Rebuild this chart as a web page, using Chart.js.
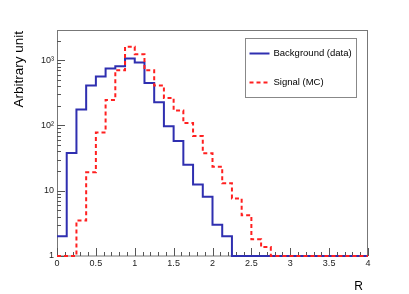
<!DOCTYPE html>
<html>
<head>
<meta charset="utf-8">
<script src="https://cdn.jsdelivr.net/npm/chart.js@4"></script>
<style>
html,body{margin:0;padding:0;background:#fff;}
#wrap{width:409px;height:294px;position:relative;}
</style>
</head>
<body>
<div id="wrap"><canvas id="c" width="409" height="294"></canvas></div>
<script>
// ---- data (histograms, bin width 0.125 from 0 to 4) ----
const binLowEdges = [0,0.125,0.25,0.375,0.5,0.625,0.75,0.875,1,1.125,1.25,1.375,1.5,1.625,1.75,1.875,2,2.125,2.25,2.375,2.5,2.625,2.75,2.875,3,3.125,3.25,3.375,3.5,3.625,3.75,3.875];
const xMaxEdge = 4;
const background = [2.0,38,175,408,562,745,809,1062,922,448,226,97,58,25,12.5,8.1,3.0,2.0,0,0,0,0,0,0,0,0,0,0,0,0,0,0];
const signal = [0,0,3.5,19.2,78,246,702,1607,1237,702,408,264,170,109,69,37.6,23.4,13,7.6,4.2,1.8,1.37,0,0,0,0,0,0,0,0,0,0];
const seriesNames = ["Background (data)", "Signal (MC)"];
const xTickValues = [0,0.5,1,1.5,2,2.5,3,3.5,4];
const xTickLabels = ["0","0.5","1","1.5","2","2.5","3","3.5","4"];
const yTickValues = [1,10,100,1000];
const yTickLabels = ["1","10","10\u00B2","10\u00B3"];
const yMin = 1, yMax = 2900;
const xTitle = "R", yTitle = "Arbitrary unit";

const FONT = '"Liberation Sans", Arial, Helvetica, sans-serif';

function toSteps(vals){
  const pts = vals.map((v,i)=>({x: binLowEdges[i], y: Math.max(v, yMin)}));
  pts.push({x: xMaxEdge, y: Math.max(vals[vals.length-1], yMin)});
  return pts;
}

const rootPlugin = {
  id: 'rootStyle',
  beforeDatasetsDraw(chart){
    const ctx = chart.ctx, ca = chart.chartArea;
    const xs = chart.scales.x, ys = chart.scales.y;
    ctx.save();
    ctx.strokeStyle = '#777';
    ctx.lineWidth = 1;
    ctx.strokeRect(Math.round(ca.left)+0.5, Math.round(ca.top)+0.5, Math.round(ca.right-ca.left)-1, Math.round(ca.bottom-ca.top)-0.5);
    ctx.strokeStyle = '#555';
    ctx.beginPath();
    for (let k=0;k<=40;k++){
      const v = k/10;
      const px = Math.round(xs.getPixelForValue(v))+0.5;
      const len = (k%5===0) ? 8 : 4;
      ctx.moveTo(px, ca.bottom);
      ctx.lineTo(px, ca.bottom-len);
    }
    for (let d=1; d<=yMax; d*=10){
      for (let m=1;m<=9;m++){
        const v = m*d;
        if (v>yMax) break;
        const py = Math.round(ys.getPixelForValue(v))+0.5;
        const len = (m===1)?8:4;
        ctx.moveTo(ca.left, py);
        ctx.lineTo(ca.left+len, py);
      }
    }
    ctx.stroke();
    ctx.restore();
  },
  afterDraw(chart){
    const ctx = chart.ctx, ca = chart.chartArea;
    ctx.save();
    ctx.fillStyle = '#000';
    ctx.font = '12px ' + FONT;
    ctx.textAlign = 'right';
    ctx.textBaseline = 'alphabetic';
    ctx.fillText(xTitle, ca.right-5, 290);
    ctx.save();
    ctx.translate(23, ca.top);
    ctx.rotate(-Math.PI/2);
    ctx.font = '13.5px ' + FONT;
    ctx.textAlign = 'right';
    ctx.fillText(yTitle, -1, 0);
    ctx.restore();
    const w = ca.right-ca.left, h = ca.bottom-ca.top;
    const lx0 = Math.round(ca.left + 0.605*w)+0.5, lx1 = Math.round(ca.left+0.961*w)+0.5;
    const ly0 = Math.round(ca.top + 0.036*h)+0.5, ly1 = Math.round(ca.top+0.296*h)+0.5;
    ctx.fillStyle = '#fff';
    ctx.fillRect(lx0, ly0, lx1-lx0, ly1-ly0);
    ctx.strokeStyle = '#888';
    ctx.lineWidth = 1;
    ctx.strokeRect(lx0, ly0, lx1-lx0, ly1-ly0);
    const rows = [ly0 + 15, ly0 + 44];
    chart.data.datasets.forEach((ds,i)=>{
      const y = rows[i];
      ctx.beginPath();
      ctx.strokeStyle = ds.borderColor;
      ctx.lineWidth = ds.borderWidth;
      ctx.setLineDash(ds.borderDash || []);
      ctx.moveTo(lx0+4, y);
      ctx.lineTo(lx0+24, y);
      ctx.stroke();
      ctx.setLineDash([]);
      ctx.fillStyle = '#000';
      ctx.font = '9.5px ' + FONT;
      ctx.textAlign = 'left';
      ctx.textBaseline = 'middle';
      ctx.fillText(ds.label, lx0+28, y);
    });
    ctx.restore();
  }
};

new Chart(document.getElementById('c'), {
  type: 'line',
  data: {
    datasets: [
      {label: seriesNames[0], data: toSteps(background), stepped: 'before', borderColor: '#2f2fb0', borderWidth: 2, pointRadius: 0, fill: false, tension: 0, clip: 2, order: 2},
      {label: seriesNames[1], data: toSteps(signal), stepped: 'before', borderColor: '#ff2020', borderWidth: 2, borderDash: [4,3], pointRadius: 0, fill: false, tension: 0, clip: 2, order: 1}
    ]
  },
  plugins: [rootPlugin],
  options: {
    responsive: false,
    animation: false,
    devicePixelRatio: 1,
    layout: {padding: {left: 0, right: 41, top: 30, bottom: 0}},
    plugins: {legend: {display: false}, tooltip: {enabled: false}},
    scales: {
      x: {
        type: 'linear', min: 0, max: 4,
        grid: {display: false, drawTicks: false},
        border: {display: false},
        afterBuildTicks(s){ s.ticks = xTickValues.map(v=>({value:v})); },
        afterFit(s){ s.height = 38; },
        ticks: {
          autoSkip: false, maxRotation: 0, padding: 2,
          color: '#222', font: {family: FONT, size: 9},
          callback: (v)=>{ const i = xTickValues.indexOf(v); return i>=0 ? xTickLabels[i] : ''; }
        }
      },
      y: {
        type: 'logarithmic', min: yMin, max: yMax,
        grid: {display: false, drawTicks: false},
        border: {display: false},
        afterBuildTicks(s){ s.ticks = yTickValues.map(v=>({value:v})); },
        afterFit(s){ s.width = 57; },
        ticks: {
          autoSkip: false, padding: 3,
          color: '#222', font: {family: FONT, size: 9},
          callback: (v)=>{ const i = yTickValues.indexOf(v); return i>=0 ? yTickLabels[i] : ''; }
        }
      }
    }
  }
});
</script>
</body>
</html>
